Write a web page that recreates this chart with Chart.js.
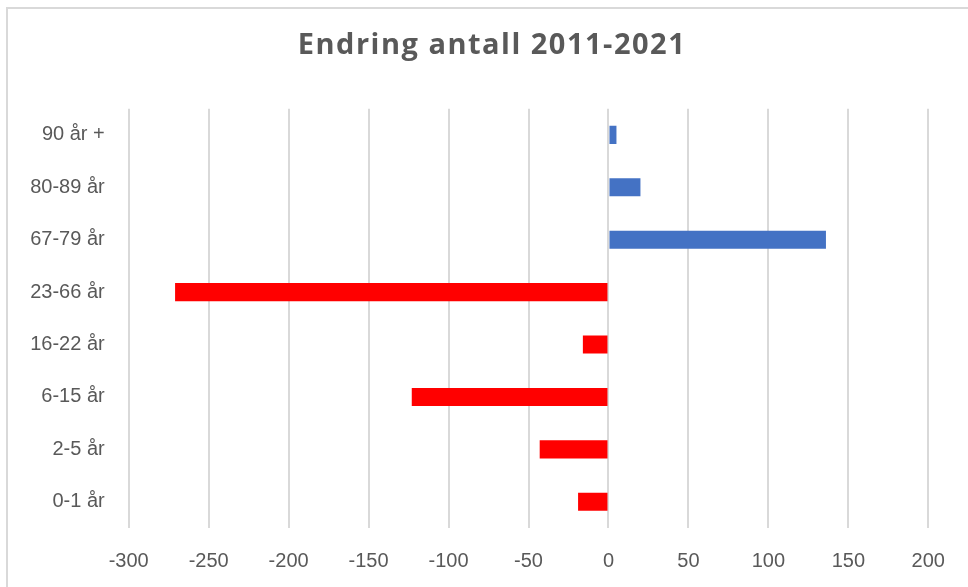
<!DOCTYPE html>
<html>
<head>
<meta charset="utf-8">
<script src="https://cdn.jsdelivr.net/npm/chart.js@4"></script>
<style>
  html, body { margin: 0; padding: 0; background: #fff; overflow: hidden; }
  #frame { position: absolute; left: 6px; top: 7px; width: 1000px; height: 700px; border: 2px solid #d9d9d9; }
  #wrap { position: absolute; left: 0; top: 0; width: 968px; height: 587px; }
</style>
</head>
<body>
<div id="frame"></div>
<div id="wrap"><canvas id="chart"></canvas></div>
<script>
const ageGroups = ['90 år +', '80-89 år', '67-79 år', '23-66 år', '16-22 år', '6-15 år', '2-5 år', '0-1 år'];
const change = [5, 20, 136, -271, -16, -123, -43, -19];
const xMin = -300;
const xMax = 200;
const xStep = 50;
const titleText = 'Endring antall 2011-2021';

// title is centred on the outer frame, not on the plot, so draw it here
const titlePlugin = {
  id: 'frameTitle',
  afterDraw(chart) {
    const c = chart.ctx;
    c.save();
    c.font = 'bold 29px "Open Sans"';
    c.letterSpacing = '1.5px';
    c.fillStyle = '#595959';
    c.textAlign = 'center';
    c.textBaseline = 'alphabetic';
    c.fillText(titleText, 492, 54);
    c.restore();
  }
};

const ctx = document.getElementById('chart');

new Chart(ctx, {
  type: 'bar',
  data: {
    labels: ageGroups,
    datasets: [{
      label: 'Endring',
      data: change,
      backgroundColor: (c) => c.raw < 0 ? '#ff0000' : '#4472c4',
      borderWidth: 0,
      barPercentage: 0.345,
      categoryPercentage: 1
    }]
  },
  plugins: [titlePlugin],
  options: {
    indexAxis: 'y',
    responsive: true,
    maintainAspectRatio: false,
    animation: false,
    devicePixelRatio: 1,
    layout: {
      padding: { left: 0, right: 39.7, top: 108.7, bottom: 0 }
    },
    plugins: {
      legend: { display: false },
      tooltip: { enabled: false },
      title: { display: false }
    },
    scales: {
      x: {
        min: xMin,
        max: xMax,
        ticks: {
          stepSize: xStep,
          color: '#595959',
          padding: 21,
          font: { family: 'Liberation Sans', size: 20 }
        },
        grid: { color: '#d9d9d9', lineWidth: 2, drawTicks: false },
        border: { display: false },
        afterFit: (s) => { s.height = 59; }
      },
      y: {
        ticks: {
          color: '#595959',
          padding: 24,
          font: { family: 'Liberation Sans', size: 20 }
        },
        grid: { display: false, drawTicks: false },
        border: { display: false },
        afterFit: (s) => { s.width = 128.7; }
      }
    }
  }
});
</script>
</body>
</html>
